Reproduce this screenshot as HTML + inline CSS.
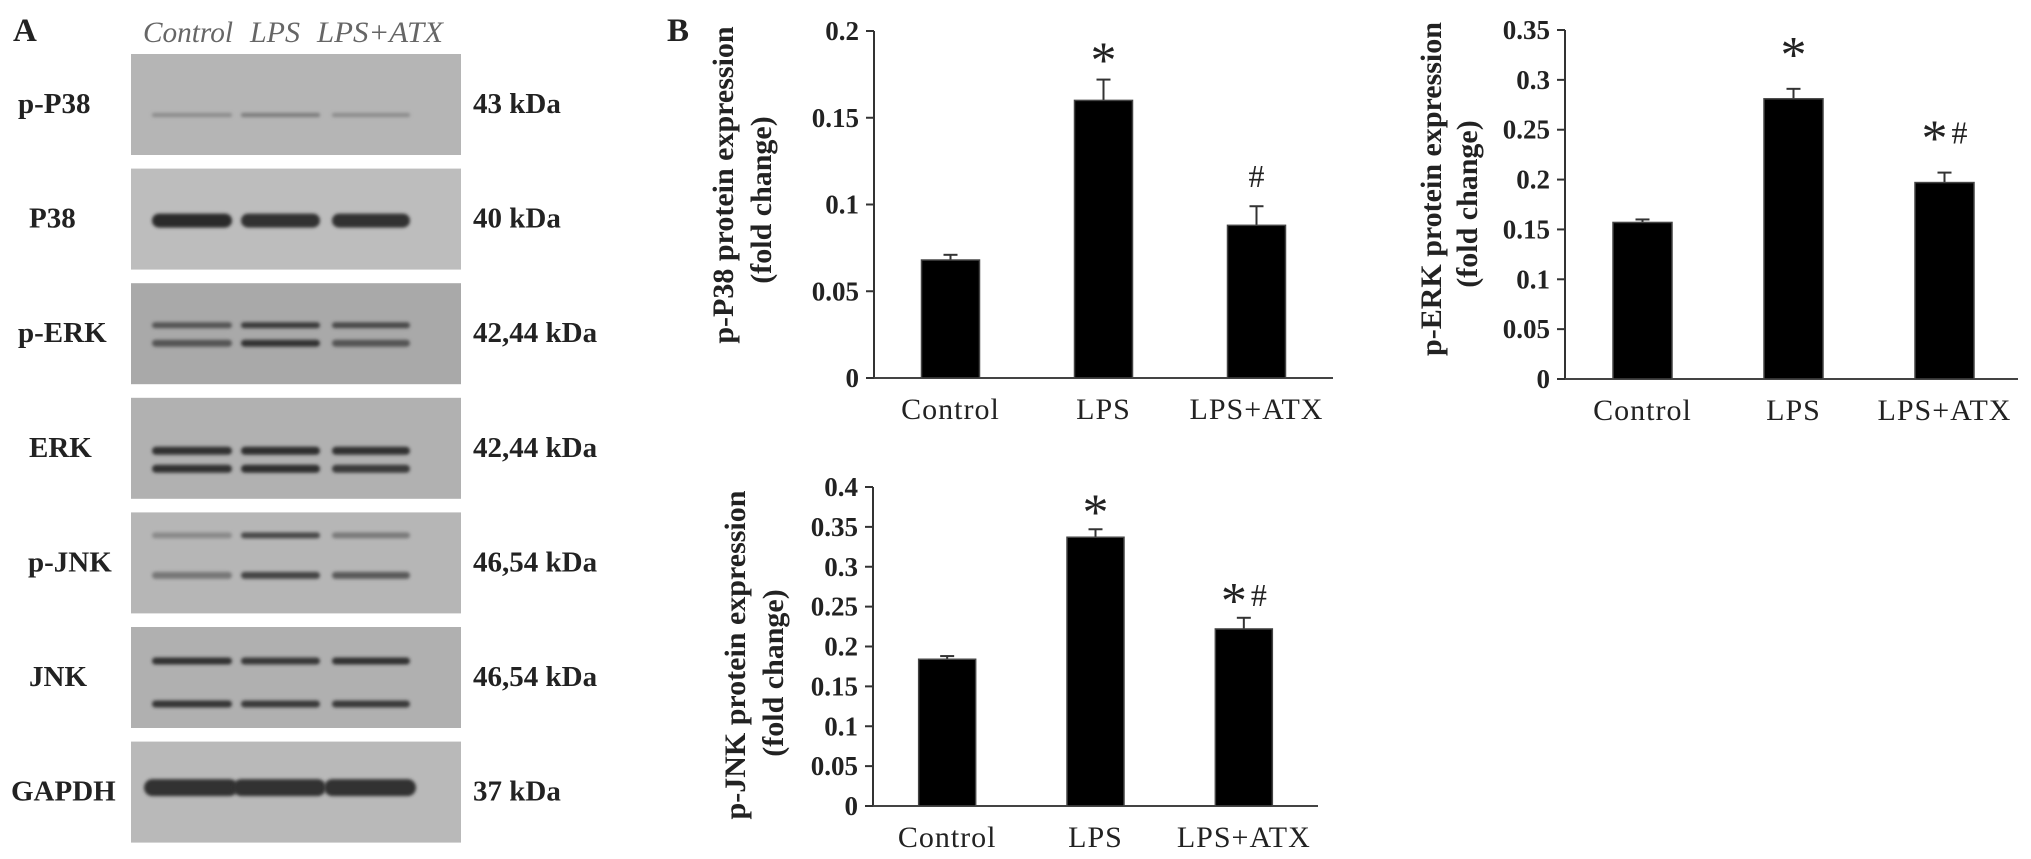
<!DOCTYPE html>
<html><head><meta charset="utf-8"><style>
html,body{margin:0;padding:0;background:#fff;}
svg{display:block;}
text{font-family:"Liberation Serif",serif;}
</style></head><body>
<svg id="fig" width="2031" height="859" viewBox="0 0 2031 859" xmlns="http://www.w3.org/2000/svg">
<defs><filter id="blur" x="-10%" y="-100%" width="120%" height="300%"><feGaussianBlur stdDeviation="1.6"/></filter></defs>
<g id="panelA"></g>
<g id="panelB"></g>
</svg>
<script>
// ---- chart data ----
const categories = ["Control", "LPS", "LPS+ATX"];
const p38Values = [0.068, 0.160, 0.088];
const p38Errors = [0.003, 0.012, 0.011];
const p38Ticks = ["0", "0.05", "0.1", "0.15", "0.2"];
const p38Marks = ["", "*", "#"];
const erkValues = [0.157, 0.281, 0.197];
const erkErrors = [0.003, 0.010, 0.010];
const erkTicks = ["0", "0.05", "0.1", "0.15", "0.2", "0.25", "0.3", "0.35"];
const erkMarks = ["", "*", "*#"];
const jnkValues = [0.184, 0.337, 0.222];
const jnkErrors = [0.004, 0.010, 0.014];
const jnkTicks = ["0", "0.05", "0.1", "0.15", "0.2", "0.25", "0.3", "0.35", "0.4"];
const jnkMarks = ["", "*", "*#"];
const blotNames = ["p-P38", "P38", "p-ERK", "ERK", "p-JNK", "JNK", "GAPDH"];
const blotSizes = ["43 kDa", "40 kDa", "42,44 kDa", "42,44 kDa", "46,54 kDa", "46,54 kDa", "37 kDa"];

const NS = "http://www.w3.org/2000/svg";
function mk(tag, attrs, parent, txt) {
  const e = document.createElementNS(NS, tag);
  for (const k in attrs) e.setAttribute(k, attrs[k]);
  if (txt !== undefined) e.textContent = txt;
  parent.appendChild(e);
  return e;
}

// ---- Panel A ----
const A = document.getElementById("panelA");
let t = mk("text", {x: 13, y: 41, "font-size": 33, "font-weight": "bold", fill: "#222"}, A, "A");


const laneHead = [["Control", 143, 90], ["LPS", 250, 50], ["LPS+ATX", 317, 126]];
laneHead.forEach(h => {
  const th = mk("text", {x: h[1], y: 42, "font-size": 30, "font-style": "italic", fill: "#666", textLength: h[2], lengthAdjust: "spacingAndGlyphs"}, A, h[0]);
  
  
});

const blotBg = ["#b5b5b5", "#bdbdbd", "#a9a9a9", "#b1b1b1", "#b6b6b6", "#b0b0b0", "#b9b9b9"];
const labelX = [18, 29, 18, 29, 28, 29, 11];
const bands = [
  [[61, 4, ["#8a8a8a", "#7a7a7a", "#8a8a8a"]]],
  [[52, 14, ["#2a2a2a", "#333", "#333"]]],
  [[42, 6, ["#555", "#3a3a3a", "#4a4a4a"]], [60, 7, ["#555", "#333", "#555"]]],
  [[53, 8, ["#333", "#2e2e2e", "#333"]], [71, 8, ["#333", "#2e2e2e", "#3a3a3a"]]],
  [[23, 6, ["#8a8a8a", "#4a4a4a", "#7a7a7a"]], [63, 7, ["#777", "#444", "#5a5a5a"]]],
  [[34, 7, ["#333", "#383838", "#333"]], [77, 7, ["#363636", "#3a3a3a", "#3a3a3a"]]],
  [[46, 17, ["#333", "#333", "#333"]]]
];
const laneX = [[152, 232], [241, 320], [332, 410]];
for (let i = 0; i < blotNames.length; i++) {
  const top = 54 + i * 114.6;
  const r = mk("rect", {x: 131, y: top, width: 330, height: 101, fill: blotBg[i]}, A);
  
  
  bands[i].forEach(b => {
    for (let l = 0; l < 3; l++) {
      const rr = mk("rect", {x: laneX[l][0] - (i === 6 ? 8 : 0), y: top + b[0] - b[1] / 2, width: laneX[l][1] - laneX[l][0] + (i === 6 ? 14 : 0), height: b[1], rx: b[1] / 2, fill: b[2][l], filter: "url(#blur)"}, A);
      
      
    }
  });
  const lt = mk("text", {x: labelX[i], y: top + 59, "font-size": 29, "font-weight": "bold", fill: "#222"}, A, blotNames[i]);
  
  
  const kt = mk("text", {x: 473, y: top + 59, "font-size": 29, "font-weight": "bold", fill: "#222"}, A, blotSizes[i]);
  
  
}

// ---- Panel B ----
const B = document.getElementById("panelB");
t = mk("text", {x: 667, y: 41, "font-size": 33, "font-weight": "bold", fill: "#222"}, B, "B");



function chart(cfg) {
  const g = mk("g", {}, B);
  
  
  const maxV = parseFloat(cfg.ticks[cfg.ticks.length - 1]);
  const yS = v => cfg.y0 - (v / maxV) * (cfg.y0 - cfg.yTop);
  let a = mk("line", {x1: cfg.ax, y1: cfg.yTop, x2: cfg.ax, y2: cfg.y0, stroke: "#333", "stroke-width": 2}, g);
  
  
  a = mk("line", {x1: cfg.ax - 8, y1: cfg.y0, x2: cfg.xEnd, y2: cfg.y0, stroke: "#444", "stroke-width": 2}, g);
  
  
  cfg.ticks.forEach(tk => {
    const y = yS(parseFloat(tk));
    const l = mk("line", {x1: cfg.ax - 8, y1: y, x2: cfg.ax, y2: y, stroke: "#333", "stroke-width": 2}, g);
    
    
    const tt = mk("text", {x: cfg.ax - 15, y: y + 9, "font-size": 27, "font-weight": "bold", "text-anchor": "end", fill: "#222"}, g, tk);
    
    
  });
  const band = (cfg.xEnd - cfg.ax) / categories.length;
  categories.forEach((c, i) => {
    const cx = cfg.ax + band * (i + 0.5) + cfg.shift;
    const v = cfg.values[i], e = cfg.errors[i];
    const ey = yS(v + e);
    const el = mk("line", {x1: cx, y1: ey, x2: cx, y2: yS(v), stroke: "#333", "stroke-width": 2}, g);
    
    
    const ec = mk("line", {x1: cx - 7, y1: ey, x2: cx + 7, y2: ey, stroke: "#333", "stroke-width": 2}, g);
    
    
    const r = mk("rect", {x: cx - cfg.bw / 2, y: yS(v), width: cfg.bw, height: cfg.y0 - yS(v), fill: "#000", stroke: "#444", "stroke-width": 1.5}, g);
    
    
    const xl = mk("text", {x: cx, y: cfg.y0 + 41, "font-size": 30, "letter-spacing": 1, "text-anchor": "middle", fill: "#222"}, g, c);
    
    
    const m = cfg.marks[i];
    if (m) {
      const cy = ey - cfg.markOff;
      const both = m.length > 1;
      if (m.includes("*")) {
        const s = mk("text", {x: cx + (both ? -10 : 0), y: cy + 28, "font-size": 52, "text-anchor": "middle", fill: "#222"}, g, "*");
        
        
      }
      if (m.includes("#")) {
        const h = mk("text", {x: cx + (both ? 15 : 0), y: cy + (both ? 16 : 11), "font-size": 32, "text-anchor": "middle", fill: "#222"}, g, "#");
        
        
      }
    }
  });
  let tl = mk("text", {x: cfg.titleX, y: cfg.titleCy, "font-size": 30, "font-weight": "bold", "text-anchor": "middle", fill: "#222", transform: `rotate(-90 ${cfg.titleX} ${cfg.titleCy})`}, g, cfg.title);
  
  
  tl = mk("text", {x: cfg.foldX, y: cfg.foldCy, "font-size": 30, "font-weight": "bold", "text-anchor": "middle", fill: "#222", transform: `rotate(-90 ${cfg.foldX} ${cfg.foldCy})`}, g, "(fold change)");
  
  
}

chart({name: "p-p38-chart", values: p38Values, errors: p38Errors, ticks: p38Ticks, marks: p38Marks,
  ax: 874, xEnd: 1333, yTop: 31, y0: 378, bw: 58, shift: 0, markOff: 30,
  title: "p-P38 protein expression", titleX: 733, titleCy: 185, foldX: 771, foldCy: 200});
chart({name: "p-erk-chart", values: erkValues, errors: erkErrors, ticks: erkTicks, marks: erkMarks,
  ax: 1565, xEnd: 2018, yTop: 30, y0: 379, bw: 59, shift: 2, markOff: 45,
  title: "p-ERK protein expression", titleX: 1441, titleCy: 189, foldX: 1477, foldCy: 204});
chart({name: "p-jnk-chart", values: jnkValues, errors: jnkErrors, ticks: jnkTicks, marks: jnkMarks,
  ax: 873, xEnd: 1318, yTop: 487, y0: 806, bw: 57, shift: 0, markOff: 28,
  title: "p-JNK protein expression", titleX: 745, titleCy: 655, foldX: 783, foldCy: 673});
</script>
</body></html>
